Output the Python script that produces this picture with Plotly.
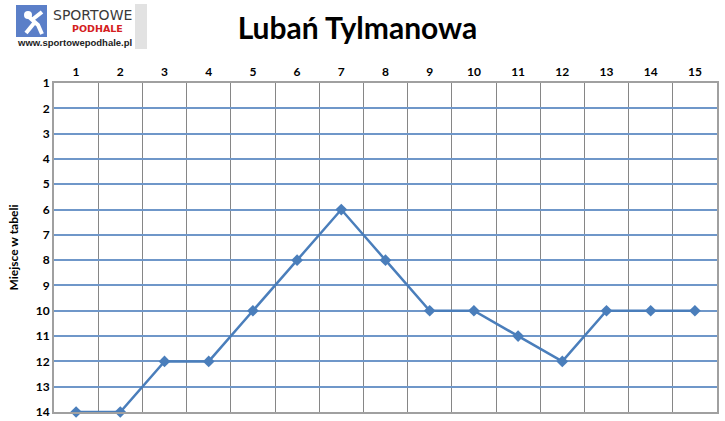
import plotly.graph_objects as go

rounds = list(range(1, 16))
positions = [14, 14, 12, 12, 10, 8, 6, 8, 10, 10, 11, 12, 10, 10, 10]
y_ticks = list(range(1, 15))
title_text = "Lubań Tylmanowa"
y_title = "Miejsce w tabeli"

L, R, T, B = 54, 8, 83, 9
W, H = 725, 421
PW, PH = W - L - R, H - T - B


def px(x):
    return (x - L) / PW


def py(y):
    return (H - B - y) / PH


fig = go.Figure()
fig.add_trace(go.Scatter(
    x=rounds, y=positions, mode="lines+markers",
    line=dict(color="#4a7ebb", width=2.5),
    marker=dict(symbol="diamond", size=9, color="#4a7ebb"),
    cliponaxis=False, showlegend=False, hoverinfo="skip",
))

fig.update_layout(
    width=W, height=H,
    margin=dict(l=L, r=R, t=T, b=B),
    paper_bgcolor="white", plot_bgcolor="white",
    title=dict(text=title_text, x=0.493, xanchor="center", y=1 - 28 / H, yanchor="middle",
               font=dict(family="Lato", size=30, color="black", weight="bold")),
    font=dict(family="Lato", color="black"),
    xaxis=dict(
        range=[0.5, 15.5], side="top", tickvals=rounds, ticktext=[str(r) for r in rounds],
        showgrid=False, zeroline=False, ticks="", ticklen=0, automargin=False,
        tickfont=dict(size=12, weight="bold"),
        minor=dict(tick0=0.5, dtick=1, showgrid=True, gridcolor="#868686", gridwidth=1.3),
        showline=True, mirror=True, linecolor="#a0a0a0", linewidth=2,
    ),
    yaxis=dict(
        range=[14, 1], tickvals=y_ticks, ticktext=[str(v) for v in y_ticks],
        showgrid=True, gridcolor="#6f97c9", gridwidth=1.5, zeroline=False, automargin=False,
        tickfont=dict(size=12, weight="bold"), ticks="", ticklen=0,
        showline=True, mirror=True, linecolor="#a0a0a0", linewidth=2,
        title=dict(text=y_title, font=dict(size=12, weight="bold"), standoff=14),
    ),
)

# logo approximation
fig.add_shape(type="rect", xref="paper", yref="paper",
              x0=px(133), x1=px(147), y0=py(49), y1=py(4),
              line=dict(width=0), fillcolor="#e2e2e2", layer="below")
fig.add_shape(type="rect", xref="paper", yref="paper",
              x0=px(14), x1=px(135), y0=py(49), y1=py(3),
              line=dict(width=0), fillcolor="white", layer="below")
fig.add_shape(type="rect", xref="paper", yref="paper",
              x0=px(16), x1=px(47), y0=py(37), y1=py(5),
              line=dict(width=0), fillcolor="#5b7fc8")
fig.add_shape(type="circle", xref="paper", yref="paper",
              x0=px(24), x1=px(32), y0=py(19), y1=py(11),
              line=dict(width=0), fillcolor="white")
fig.add_shape(type="path", xref="paper", yref="paper",
              path=f"M {px(29)},{py(17)} L {px(38)},{py(25)} L {px(42)},{py(34)} "
                   f"M {px(35)},{py(22)} L {px(26)},{py(33)} "
                   f"M {px(33)},{py(19)} L {px(42)},{py(12)}",
              line=dict(width=4, color="white"))
fig.add_annotation(xref="paper", yref="paper", x=px(92), y=py(15), text="SPORTOWE",
                   xanchor="center", yanchor="middle",
                   showarrow=False, font=dict(family="DejaVu Sans", size=14, color="#3a3a3a"))
fig.add_annotation(xref="paper", yref="paper", x=px(97), y=py(29), text="<b>PODHALE</b>",
                   xanchor="center", yanchor="middle",
                   showarrow=False, font=dict(family="DejaVu Sans", size=9.5, color="#d42020"))
fig.add_annotation(xref="paper", yref="paper", x=px(74), y=py(43), text="<b>www.sportowepodhale.pl</b>",
                   xanchor="center", yanchor="middle",
                   showarrow=False, font=dict(family="Liberation Sans", size=9.5, color="#222222"))

fig.write_html("out.html", config={"displayModeBar": False},
               post_script="document.body.style.margin='0';")
